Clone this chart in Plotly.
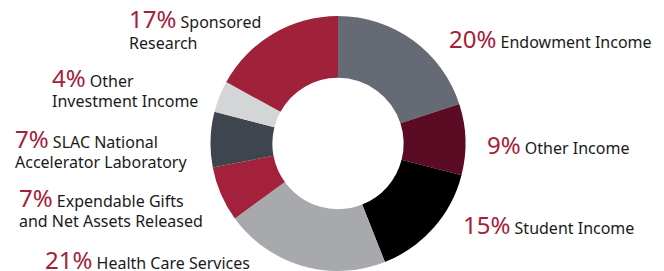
import plotly.graph_objects as go

W, H = 664, 271
TOP = 16

categories = ["Endowment Income", "Other Income", "Student Income", "Health Care Services",
              "Expendable Gifts and Net Assets Released", "SLAC National Accelerator Laboratory",
              "Other Investment Income", "Sponsored Research"]
values = [20, 9, 15, 21, 7, 7, 4, 17]
label_lines = [["Endowment Income"], ["Other Income"], ["Student Income"], ["Health Care Services"],
               ["Expendable Gifts", "and Net Assets Released"], ["SLAC National", "Accelerator Laboratory"],
               ["Other", "Investment Income"], ["Sponsored", "Research"]]

colors = ["#656a74", "#5b0b24", "#000000", "#a7a9ad", "#a3213a", "#3f454f", "#d4d5d7", "#a0213a"]
# label left x and first-line baseline y, in pixels
label_pos = [(447, 46), (485, 152), (461, 232), (43, 267), (17, 205), (13, 146), (50, 85), (127, 27)]
LINE_GAP = 21

cx, r = 338, 128
fig = go.Figure(go.Pie(
    labels=categories, values=values, sort=False, direction="clockwise", rotation=0,
    hole=0.515, textinfo="none", hoverinfo="label+percent",
    marker=dict(colors=colors, line=dict(width=0)),
    domain=dict(x=[(cx - r) / W, (cx + r) / W], y=[0, 1]),
    showlegend=False,
))


def py2paper(py):
    return 1 - (py - TOP) / (H - TOP)


total = sum(values)
font = dict(family="Noto Sans", size=16, color="#1a1a1a")
for v, lines, (px, py) in zip(values, label_lines, label_pos):
    pct = round(100 * v / total)
    fig.add_annotation(
        x=px / W, y=py2paper(py - 8), xref="paper", yref="paper",
        xanchor="left", yanchor="middle", align="left", showarrow=False,
        text=f'<span style="color:#a3213a;font-size:24px">{pct}%</span> {lines[0]}',
        font=font,
    )
    for i, ln in enumerate(lines[1:], start=1):
        fig.add_annotation(
            x=px / W, y=py2paper(py + i * LINE_GAP - 5), xref="paper", yref="paper",
            xanchor="left", yanchor="middle", align="left", showarrow=False,
            text=ln, font=font,
        )

fig.update_layout(
    width=W, height=H, margin=dict(l=0, r=0, t=TOP, b=0),
    paper_bgcolor="white", plot_bgcolor="white",
)
fig.write_html("out.html", config={"displayModeBar": False},
               post_script="document.body.style.margin='0';document.body.style.overflow='hidden';")
